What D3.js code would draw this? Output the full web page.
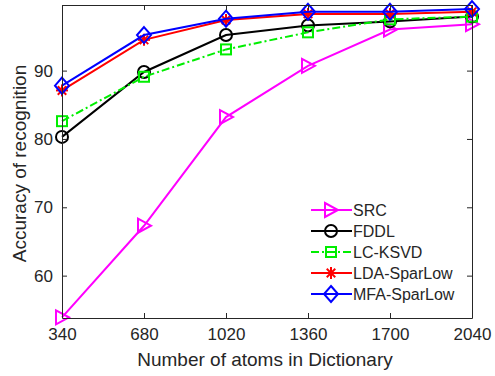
<!DOCTYPE html>
<html>
<head>
<meta charset="utf-8">
<script src="https://cdn.jsdelivr.net/npm/d3@7"></script>
<style>
  body { margin: 0; background: #fff; }
  text { font-family: "Liberation Sans", Arial, sans-serif; fill: #262626; }
</style>
</head>
<body>
<div id="chart"></div>
<script>
var atoms = [340, 680, 1020, 1360, 1700, 2040];
var yTicks = [60, 70, 80, 90];
var src = [53.9, 67.3, 83.2, 90.7, 96.0, 96.8];
var fddl = [80.3, 89.8, 95.2, 96.6, 97.2, 97.9];
var lcksvd = [82.6, 89.1, 93.1, 95.6, 97.5, 97.9];
var ldaSparLow = [87.1, 94.5, 97.4, 98.3, 98.3, 98.6];
var mfaSparLow = [87.8, 95.2, 97.6, 98.6, 98.6, 99.0];

var seriesNames = ['SRC', 'FDDL', 'LC-KSVD', 'LDA-SparLow', 'MFA-SparLow'];
var seriesValues = [src, fddl, lcksvd, ldaSparLow, mfaSparLow];
var seriesColors = ['#ff00ff', '#000000', '#00ee00', '#ff0000', '#0000ff'];
var seriesMarkers = ['triangle', 'circle', 'square', 'star', 'diamond'];
var seriesDash = [null, null, '8,3,2,3', null, null];

var width = 495, height = 376;
var margin = {left: 62, top: 5, right: 23, bottom: 58};

var svg = d3.select('#chart').append('svg')
    .attr('width', width)
    .attr('height', height);

var x = d3.scaleLinear().domain([340, 2040]).range([margin.left, width - margin.right]);
var y = d3.scaleLinear().domain([53.8, 99.6]).range([height - margin.bottom, margin.top]);

var plot = svg.append('g');

// axes, ticks inside like matlab
function styleAxis(g) {
    g.selectAll('path').attr('stroke', '#262626');
    g.selectAll('line').attr('stroke', '#262626');
    g.selectAll('text').attr('font-size', 17).style('fill', '#262626');
}
svg.append('g').attr('transform', 'translate(0,' + y.range()[0] + ')')
    .call(d3.axisBottom(x).tickValues(atoms).tickSizeInner(-5).tickSizeOuter(0).tickPadding(10).tickFormat(d3.format('d')))
    .call(styleAxis);
svg.append('g').attr('transform', 'translate(0,' + y.range()[1] + ')')
    .call(d3.axisTop(x).tickValues(atoms).tickSizeInner(-5).tickSizeOuter(0).tickFormat(''))
    .call(styleAxis);
svg.append('g').attr('transform', 'translate(' + x.range()[0] + ',0)')
    .call(d3.axisLeft(y).tickValues(yTicks).tickSizeInner(-5).tickSizeOuter(0).tickPadding(9))
    .call(styleAxis);
svg.append('g').attr('transform', 'translate(' + x.range()[1] + ',0)')
    .call(d3.axisRight(y).tickValues(yTicks).tickSizeInner(-5).tickSizeOuter(0).tickFormat(''))
    .call(styleAxis);

svg.append('text')
    .attr('x', (x.range()[0] + x.range()[1]) / 2 - 2)
    .attr('y', 366)
    .attr('text-anchor', 'middle')
    .attr('font-size', 19)
    .text('Number of atoms in Dictionary');
svg.append('text')
    .attr('transform', 'translate(26,' + ((y.range()[0] + y.range()[1]) / 2 + 2) + ') rotate(-90)')
    .attr('text-anchor', 'middle')
    .attr('font-size', 19)
    .text('Accuracy of recognition');

function drawMarker(g, kind, cx, cy, color) {
    if (kind === 'triangle') {
        g.append('path').attr('d', 'M' + (cx - 6) + ',' + (cy - 7) + 'L' + (cx + 7) + ',' + cy + 'L' + (cx - 6) + ',' + (cy + 7) + 'Z')
            .attr('fill', 'none').attr('stroke', color).attr('stroke-width', 2);
    } else if (kind === 'circle') {
        g.append('circle').attr('cx', cx).attr('cy', cy).attr('r', 6)
            .attr('fill', 'none').attr('stroke', color).attr('stroke-width', 2);
    } else if (kind === 'square') {
        g.append('rect').attr('x', cx - 5).attr('y', cy - 5).attr('width', 10).attr('height', 10)
            .attr('fill', 'none').attr('stroke', color).attr('stroke-width', 2);
    } else if (kind === 'star') {
        var r = 6;
        [0, 45, 90, 135].forEach(function (a) {
            var rad = a * Math.PI / 180;
            g.append('line')
                .attr('x1', cx - r * Math.cos(rad)).attr('y1', cy - r * Math.sin(rad))
                .attr('x2', cx + r * Math.cos(rad)).attr('y2', cy + r * Math.sin(rad))
                .attr('stroke', color).attr('stroke-width', 2);
        });
    } else if (kind === 'diamond') {
        g.append('path').attr('d', 'M' + cx + ',' + (cy - 8) + 'L' + (cx + 7) + ',' + cy + 'L' + cx + ',' + (cy + 8) + 'L' + (cx - 7) + ',' + cy + 'Z')
            .attr('fill', 'none').attr('stroke', color).attr('stroke-width', 2);
    }
}

var line = d3.line().x(function (d, i) { return x(atoms[i]); }).y(function (d) { return y(d); });

seriesValues.forEach(function (vals, s) {
    var g = plot.append('g');
    g.append('path').datum(vals)
        .attr('d', line)
        .attr('fill', 'none')
        .attr('stroke', seriesColors[s])
        .attr('stroke-width', 2)
        .attr('stroke-dasharray', seriesDash[s]);
    vals.forEach(function (v, i) {
        drawMarker(g, seriesMarkers[s], x(atoms[i]), y(v), seriesColors[s]);
    });
});

// legend
var legend = svg.append('g');
seriesNames.forEach(function (name, i) {
    var ly = 210 + i * 21;
    legend.append('line')
        .attr('x1', 311).attr('x2', 352).attr('y1', ly).attr('y2', ly)
        .attr('stroke', seriesColors[i]).attr('stroke-width', 2)
        .attr('stroke-dasharray', seriesDash[i]);
    drawMarker(legend, seriesMarkers[i], 331, ly, seriesColors[i]);
    legend.append('text')
        .attr('x', 353).attr('y', ly + 6)
        .attr('font-size', 16)
        .text(name);
});
</script>
</body>
</html>
